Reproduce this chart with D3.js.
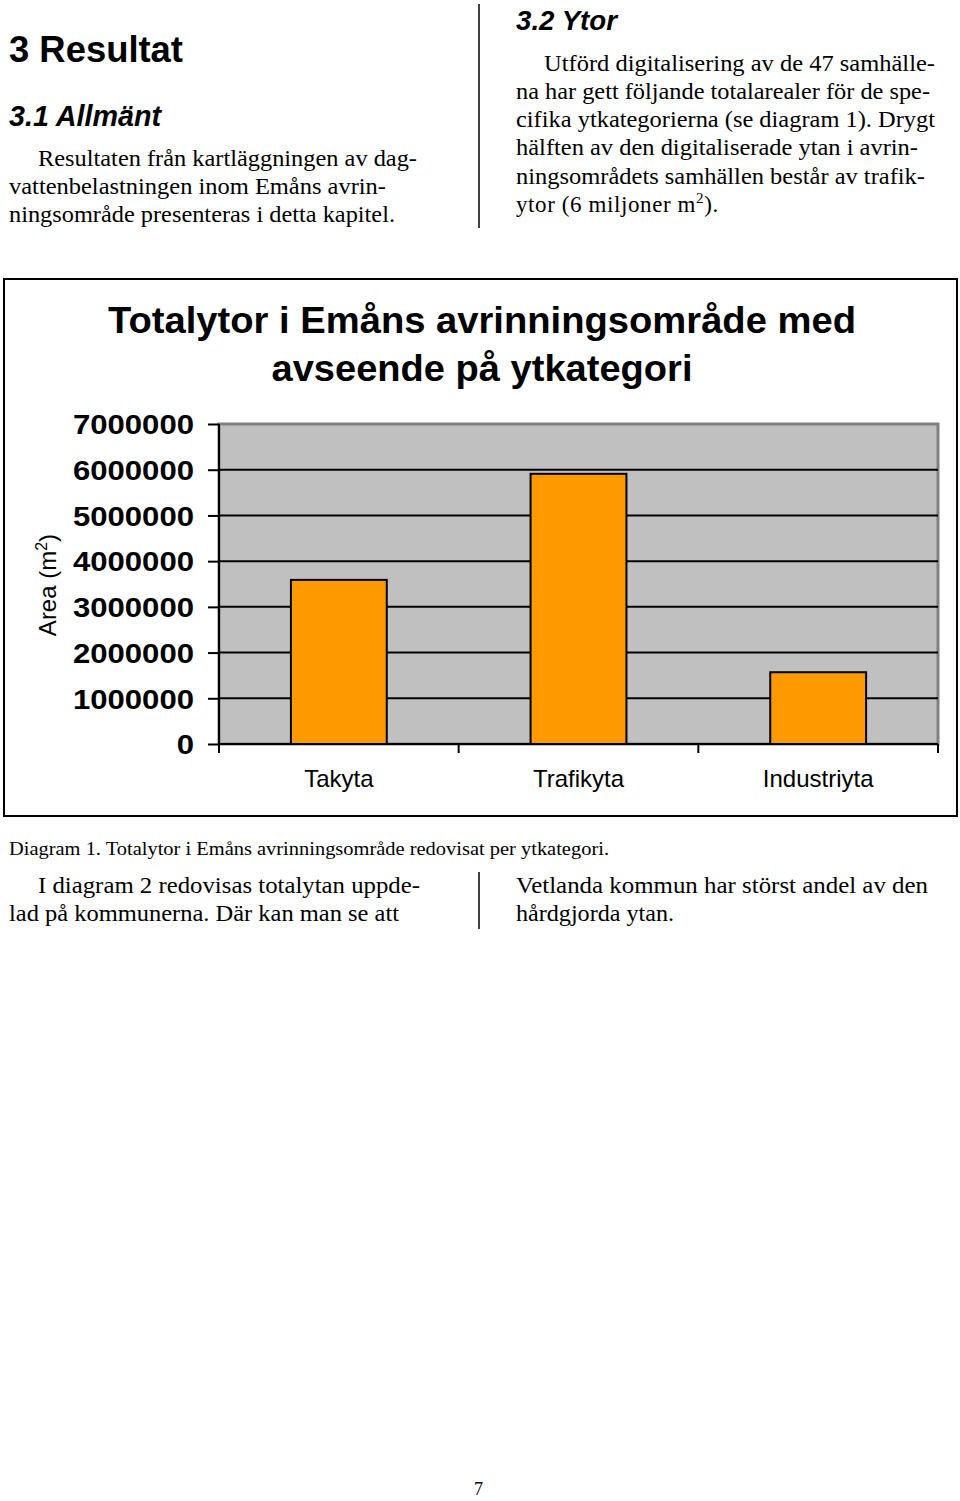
<!DOCTYPE html>
<html>
<head>
<meta charset="utf-8">
<script src="https://cdn.jsdelivr.net/npm/d3@7"></script>
<style>
  html, body { margin: 0; padding: 0; background: #fff; }
  svg { display: block; }
</style>
</head>
<body>
<svg id="page" width="960" height="1501"></svg>
<script>
// ---- Data ----
const categories = ["Takyta", "Trafikyta", "Industriyta"];
const areaValues = [3590000, 5910000, 1570000];
const yTickValues = [0, 1000000, 2000000, 3000000, 4000000, 5000000, 6000000, 7000000];
const chartTitleLines = ["Totalytor i Emåns avrinningsområde med", "avseende på ytkategori"];
const yAxisTitle = "Area (m";
const caption = "Diagram 1. Totalytor i Emåns avrinningsområde redovisat per ytkategori.";

const svg = d3.select("#page");
const serif = "'Liberation Serif', 'Times New Roman', serif";
const sans = "'Liberation Sans', Arial, sans-serif";

// ---- Page text ----
function line(x, y, txt, opts = {}) {
  const t = svg.append("text").attr("x", x).attr("y", y)
    .attr("font-family", opts.family || serif)
    .attr("font-size", opts.size || 23)
    .attr("font-weight", opts.weight || "normal")
    .attr("font-style", opts.style || "normal")
    .attr("fill", "#000")
    .text(txt);
  if (opts.len) t.attr("textLength", opts.len).attr("lengthAdjust", "spacingAndGlyphs");
  return t;
}

line(9, 62, "3 Resultat", {family: sans, size: 37, weight: "bold", len: 174});
line(9, 126, "3.1 Allmänt", {family: sans, size: 29, weight: "bold", style: "italic", len: 152});
line(38, 166, "Resultaten från kartläggningen av dag-", {len: 379});
line(9, 194, "vattenbelastningen inom Emåns avrin-", {len: 377});
line(9, 222, "ningsområde presenteras i detta kapitel.", {len: 386});

svg.append("line").attr("x1", 479).attr("x2", 479).attr("y1", 4).attr("y2", 228)
  .attr("stroke", "#000").attr("stroke-width", 1.5);

line(516, 30, "3.2 Ytor", {family: sans, size: 28, weight: "bold", style: "italic", len: 101});
line(544, 71, "Utförd digitalisering av de 47 samhälle-", {len: 391});
line(516, 99, "na har gett följande totalarealer för de spe-", {len: 414});
line(516, 127, "cifika ytkategorierna (se diagram 1). Drygt", {len: 419});
line(516, 155, "hälften av den digitaliserade ytan i avrin-", {len: 402});
line(516, 184, "ningsområdets samhällen består av trafik-", {len: 409});
const last = svg.append("text").attr("x", 516).attr("y", 212)
  .attr("font-family", serif).attr("font-size", 23).attr("letter-spacing", 0.6).attr("fill", "#000");
last.append("tspan").text("ytor (6 miljoner m");
last.append("tspan").attr("dy", -9).attr("font-size", 15).text("2");
last.append("tspan").attr("dy", 9).text(").");

// ---- Chart frame ----
svg.append("rect").attr("x", 4).attr("y", 279).attr("width", 953).attr("height", 537)
  .attr("fill", "#fff").attr("stroke", "#000").attr("stroke-width", 2);

chartTitleLines.forEach((t, i) => {
  const tt = svg.append("text").attr("x", 482).attr("y", 333 + i * 48)
    .attr("text-anchor", "middle").attr("font-family", sans)
    .attr("font-size", 37).attr("font-weight", "bold").attr("fill", "#000").text(t);
  tt.attr("textLength", i === 0 ? 748 : 421).attr("lengthAdjust", "spacingAndGlyphs");
});

// ---- Plot ----
const plot = {left: 219, right: 938, top: 424, bottom: 744};
const x = d3.scaleBand().domain(categories).range([plot.left, plot.right])
  .paddingInner(0.6).paddingOuter(0.3);
const y = d3.scaleLinear().domain([0, 7000000]).range([plot.bottom, plot.top]);

// plot background
svg.append("rect").attr("x", plot.left).attr("y", plot.top)
  .attr("width", plot.right - plot.left).attr("height", plot.bottom - plot.top)
  .attr("fill", "#c0c0c0").attr("stroke", "#808080").attr("stroke-width", 3);

// gridlines
svg.append("g").selectAll("line")
  .data(yTickValues.filter(v => v > 0 && v < 7000000))
  .join("line")
  .attr("x1", plot.left).attr("x2", plot.right)
  .attr("y1", d => y(d)).attr("y2", d => y(d))
  .attr("stroke", "#000").attr("stroke-width", 2);

// bars
svg.append("g").selectAll("rect")
  .data(categories.map((c, i) => ({c, v: areaValues[i]})))
  .join("rect")
  .attr("x", d => x(d.c)).attr("width", x.bandwidth())
  .attr("y", d => y(d.v)).attr("height", d => y(0) - y(d.v))
  .attr("fill", "#ff9900").attr("stroke", "#000").attr("stroke-width", 2);

// y axis
const yAxis = svg.append("g").attr("transform", `translate(${plot.left},0)`)
  .call(d3.axisLeft(y).tickValues(yTickValues).tickSize(11).tickPadding(14)
    .tickFormat(d3.format("d")));
yAxis.select(".domain").attr("stroke", "#000").attr("stroke-width", 2)
  .attr("d", `M0,${plot.top}V${plot.bottom}`);
yAxis.selectAll(".tick line").attr("stroke", "#000").attr("stroke-width", 2);
yAxis.selectAll(".tick text")
  .attr("font-family", sans).attr("font-size", 27).attr("font-weight", "bold")
  .attr("fill", "#000").attr("dy", "0.36em")
  .attr("textLength", d => String(d).length * 17.3).attr("lengthAdjust", "spacingAndGlyphs");

// x axis
const xAxis = svg.append("g").attr("transform", `translate(0,${plot.bottom})`)
  .call(d3.axisBottom(x).tickSize(0).tickPadding(0));
xAxis.select(".domain").attr("stroke", "#000").attr("stroke-width", 2)
  .attr("d", `M${plot.left},0H${plot.right}`);
xAxis.selectAll(".tick text")
  .attr("font-family", sans).attr("font-size", 24).attr("fill", "#000")
  .attr("y", 43).attr("dy", 0);
// category separator ticks at band edges
const edges = categories.map((c, i) => plot.left + i * x.step() * ((plot.right - plot.left) / (x.step() * categories.length)));
edges.push(plot.right);
xAxis.append("g").selectAll("line").data(edges).join("line")
  .attr("x1", d => d).attr("x2", d => d).attr("y1", 0).attr("y2", 9)
  .attr("stroke", "#000").attr("stroke-width", 2);

// y axis title
const yt = svg.append("text")
  .attr("transform", "translate(56,585) rotate(-90)")
  .attr("text-anchor", "middle").attr("font-family", sans).attr("font-size", 24).attr("fill", "#000");
yt.append("tspan").text(yAxisTitle);
yt.append("tspan").attr("dy", -9).attr("font-size", 16).text("2");
yt.append("tspan").attr("dy", 9).text(")");

// ---- Caption & following text ----
line(9, 855, caption, {size: 19, len: 600});
line(38, 893, "I diagram 2 redovisas  totalytan uppde-", {len: 382});
line(9, 921, "lad på kommunerna. Där kan man se att", {len: 390});
svg.append("line").attr("x1", 479).attr("x2", 479).attr("y1", 872).attr("y2", 929)
  .attr("stroke", "#000").attr("stroke-width", 1.5);
line(516, 893, "Vetlanda kommun har störst  andel av den", {len: 412});
line(516, 921, "hårdgjorda ytan.", {len: 158});

// page number
line(474, 1495, "7", {size: 18});
</script>
</body>
</html>
